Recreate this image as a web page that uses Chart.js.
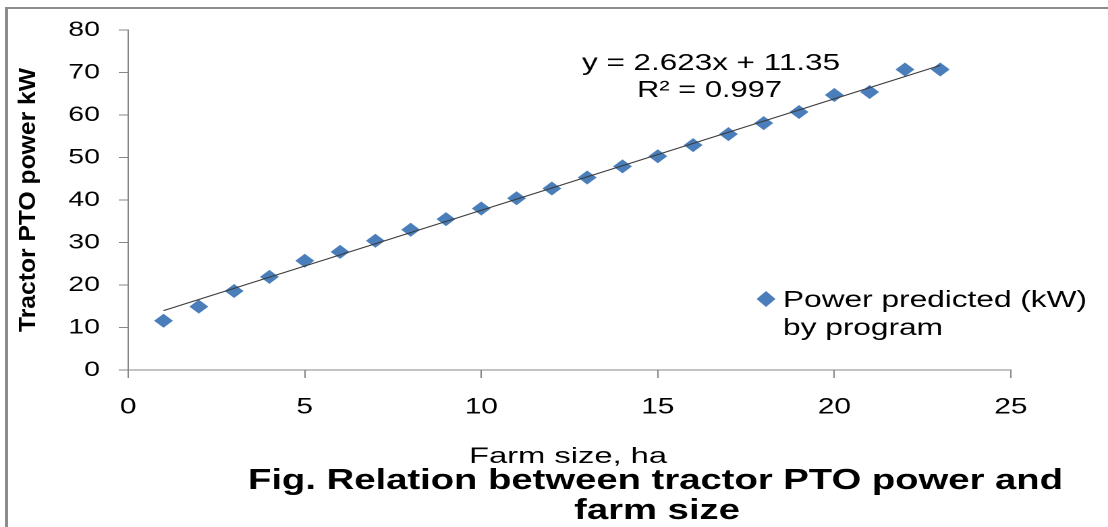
<!DOCTYPE html>
<html>
<head>
<meta charset="utf-8">
<script src="https://cdn.jsdelivr.net/npm/chart.js@4/dist/chart.umd.min.js"></script>
<style>
  html, body { margin: 0; padding: 0; background: #fff; overflow: hidden; width: 1108px; height: 527px; }
  #frame { position: absolute; left: 5px; top: 7px; width: 1200px; height: 600px;
           border-left: 3px solid #8c8c8c; border-top: 2px solid #8c8c8c; }
  /* the source picture is stretched sideways, so the canvas is too */
  #c { position: absolute; left: 0; top: 0; width: 821px; height: 527px;
       transform: scaleX(1.3496); transform-origin: 0 0; }
</style>
</head>
<body>
<div id="frame"></div>
<canvas id="c" width="821" height="527"></canvas>
<script>
// --- data ---
const farmSize = [1, 2, 3, 4, 5, 6, 7, 8, 9, 10, 11, 12, 13, 14, 15, 16, 17, 18, 19, 20, 21, 22, 23];
const powerKW = [11.6, 14.9, 18.6, 21.9, 25.7, 27.8, 30.4, 33.0, 35.5, 38.0, 40.4, 42.7, 45.3,
                 47.9, 50.3, 52.9, 55.5, 58.1, 60.7, 64.7, 65.4, 70.7, 70.7];
// linear trendline (y = 2.623x + 11.35) end points
const trendX = [1, 23];
const trendY = [13.97, 71.68];

const eqLabel = 'y = 2.623x + 11.35';
const r2Label = 'R\u00B2 = 0.997';
const seriesName = ['Power predicted (kW)', 'by program'];
const yTitle = 'Tractor PTO power kW';
const xTitle = 'Farm size, ha';
const caption = ['Fig. Relation between tractor PTO power and', 'farm size'];

const S = 1108 / 821;          // horizontal stretch of the canvas
const BLUE = '#4A7EBB';
const AXIS = '#868686';
const FONT = '"Liberation Sans", Arial, sans-serif';

// draws text so its on-screen width matches what the picture shows
function fitText(ctx, text, x, y, align, refWidth, lineRef) {
    const w = ctx.measureText(lineRef || text).width;
    const sx = (refWidth / S) / w;
    ctx.save();
    ctx.translate(x / S, y);
    ctx.scale(sx, 1);
    ctx.textAlign = align;
    ctx.fillText(text, 0, 0);
    ctx.restore();
}

const textPlugin = {
    id: 'figText',
    afterDraw(chart) {
        const ctx = chart.ctx;
        ctx.save();
        ctx.fillStyle = '#000';
        ctx.textBaseline = 'alphabetic';

        // trendline equation
        ctx.font = '23.5px ' + FONT;
        fitText(ctx, eqLabel, 711, 70, 'center', 258);
        fitText(ctx, r2Label, 709.5, 97, 'center', 145);

        // legend
        ctx.fillStyle = BLUE;
        const lx = 766 / S, ly = 299;
        ctx.beginPath();
        ctx.moveTo(lx - 7, ly); ctx.lineTo(lx, ly - 8); ctx.lineTo(lx + 7, ly); ctx.lineTo(lx, ly + 8);
        ctx.closePath();
        ctx.fill();
        ctx.fillStyle = '#000';
        ctx.font = '23.5px ' + FONT;
        fitText(ctx, seriesName[0], 783, 307, 'left', 304);
        fitText(ctx, seriesName[1], 783, 335, 'left', 304, seriesName[0]);

        // y axis title (rotated)
        ctx.font = 'bold 17.5px ' + FONT;
        const w = ctx.measureText(yTitle).width;
        ctx.save();
        ctx.translate(35 / S, 200);
        ctx.rotate(-Math.PI / 2);
        ctx.scale(264 / w, 1);
        ctx.textAlign = 'center';
        ctx.fillText(yTitle, 0, 0);
        ctx.restore();

        // x axis title
        ctx.font = '22px ' + FONT;
        fitText(ctx, xTitle, 568, 463, 'center', 198);

        // caption
        ctx.font = 'bold 29px ' + FONT;
        fitText(ctx, caption[0], 655.5, 489, 'center', 815);
        fitText(ctx, caption[1], 657, 519, 'center', 815, caption[0]);
        ctx.restore();
    }
};

new Chart(document.getElementById('c'), {
    type: 'scatter',
    data: {
        datasets: [{
            type: 'line',
            label: 'Linear trend',
            data: trendX.map((x, i) => ({ x: x, y: trendY[i] })),
            borderColor: '#3c3c3c',
            borderWidth: 1,
            pointRadius: 0,
            fill: false
        }, {
            label: seriesName.join(' '),
            data: farmSize.map((x, i) => ({ x: x, y: powerKW[i] })),
            pointStyle: 'rectRot',
            pointRadius: 7,
            pointHoverRadius: 7,
            backgroundColor: BLUE,
            borderColor: BLUE,
            borderWidth: 0
        }]
    },
    options: {
        responsive: false,
        devicePixelRatio: 2,
        animation: false,
        layout: { padding: { left: 0, right: 72, top: 30, bottom: 0 } },
        plugins: {
            legend: { display: false },
            tooltip: { enabled: false }
        },
        scales: {
            x: {
                type: 'linear',
                min: 0, max: 25,
                ticks: { stepSize: 5, color: '#000', padding: 16, font: { family: FONT, size: 22 } },
                grid: { drawOnChartArea: false, color: AXIS, tickLength: 8 },
                border: { color: AXIS, width: 1 },
                afterFit(scale) { scale.height = 157; }
            },
            y: {
                min: 0, max: 80,
                ticks: { stepSize: 10, color: '#000', padding: 14, font: { family: FONT, size: 21 } },
                grid: { drawOnChartArea: false, color: AXIS, tickLength: 7 },
                border: { color: AXIS, width: 1 },
                afterFit(scale) { scale.width = 95; }
            }
        }
    },
    plugins: [textPlugin]
});
</script>
</body>
</html>
